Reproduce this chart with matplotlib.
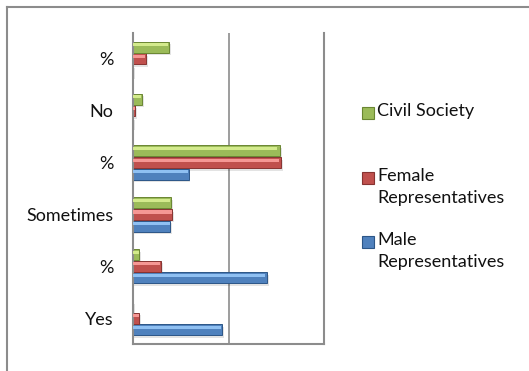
import matplotlib.pyplot as plt
from matplotlib.patches import Rectangle
from matplotlib.lines import Line2D
import numpy as np

plt.rcParams['font.family'] = ['Lato', 'DejaVu Sans']

# answers, listed bottom to top
categories = ["Yes", "%", "Sometimes", "%", "No", "%"]
male = [46.6, 70.2, 19.5, 29.1, 0, 0]
female = [3.1, 14.5, 20.6, 77.7, 1.0, 6.6]
civil = [0, 3.1, 19.7, 76.8, 4.5, 18.8]

series = [
    ("Male\nRepresentatives", male, "#4f81bd", "#8fc0f2", "#2c5687"),
    ("Female\nRepresentatives", female, "#c0504d", "#f59794", "#873331"),
    ("Civil Society", civil, "#9bbb59", "#d3ea8c", "#6a8632"),
]

W, H = 529, 371
fig = plt.figure(figsize=(W / 100, H / 100), dpi=100)
ax = fig.add_axes([133 / W, (H - 344) / H, 191 / W, 311 / H])

y = np.arange(len(categories))
bh = 0.21
for k, (name, vals, base, light, dark) in enumerate(series):
    pos = y + (k - 1) * 0.225
    vals = np.array(vals)
    # soft drop shadow
    ax.barh(pos - 0.05, vals + 1.0, height=bh, left=0, color="#0000001c", lw=0, zorder=1)
    ax.barh(pos, vals, height=bh, color=base, edgecolor=dark, lw=0.7, zorder=2)
    # bevel highlight along the top edge
    ax.barh(pos + bh * 0.22, vals * 0.985, height=bh * 0.3, color=light, lw=0, zorder=3)

ax.set_xlim(0, 100)
ax.set_ylim(-0.5, len(categories) - 0.5)
ax.set_xticks([])
ax.set_yticks(y)
ax.set_yticklabels(categories, fontsize=13, color="#111111")
ax.tick_params(axis="y", length=0, pad=14)
ax.axvline(50, color="#8c8c8c", lw=1.2, zorder=0)

for s in ("left", "bottom", "right"):
    ax.spines[s].set_color("#8c8c8c")
    ax.spines[s].set_linewidth(1.5)
ax.spines["top"].set_visible(False)

# legend drawn in figure pixels
legend_rows = [
    ("Civil Society", "#9bbb59", "#6a8632", 113),
    ("Female\nRepresentatives", "#c0504d", "#873331", 178),
    ("Male\nRepresentatives", "#4f81bd", "#2c5687", 242),
]
for label, c, ec, py in legend_rows:
    fig.patches.append(Rectangle((362 / W, (H - py - 6) / H), 12 / W, 12 / H,
                                 transform=fig.transFigure, facecolor=c,
                                 edgecolor=ec, lw=0.8))
    fig.text(377 / W, (H - py + 10) / H, label, fontsize=13, color="#111111",
             va="top", ha="left", linespacing=1.5, transform=fig.transFigure)

# chart area frame (left and top edges)
fig.add_artist(Line2D([7 / W, 7 / W], [0, (H - 6.5) / H], transform=fig.transFigure,
                      color="#8c8c8c", lw=1.5))
fig.add_artist(Line2D([7 / W, 1], [(H - 6.5) / H, (H - 6.5) / H], transform=fig.transFigure,
                      color="#8c8c8c", lw=1.5))

fig.savefig("out.png", dpi=100)
